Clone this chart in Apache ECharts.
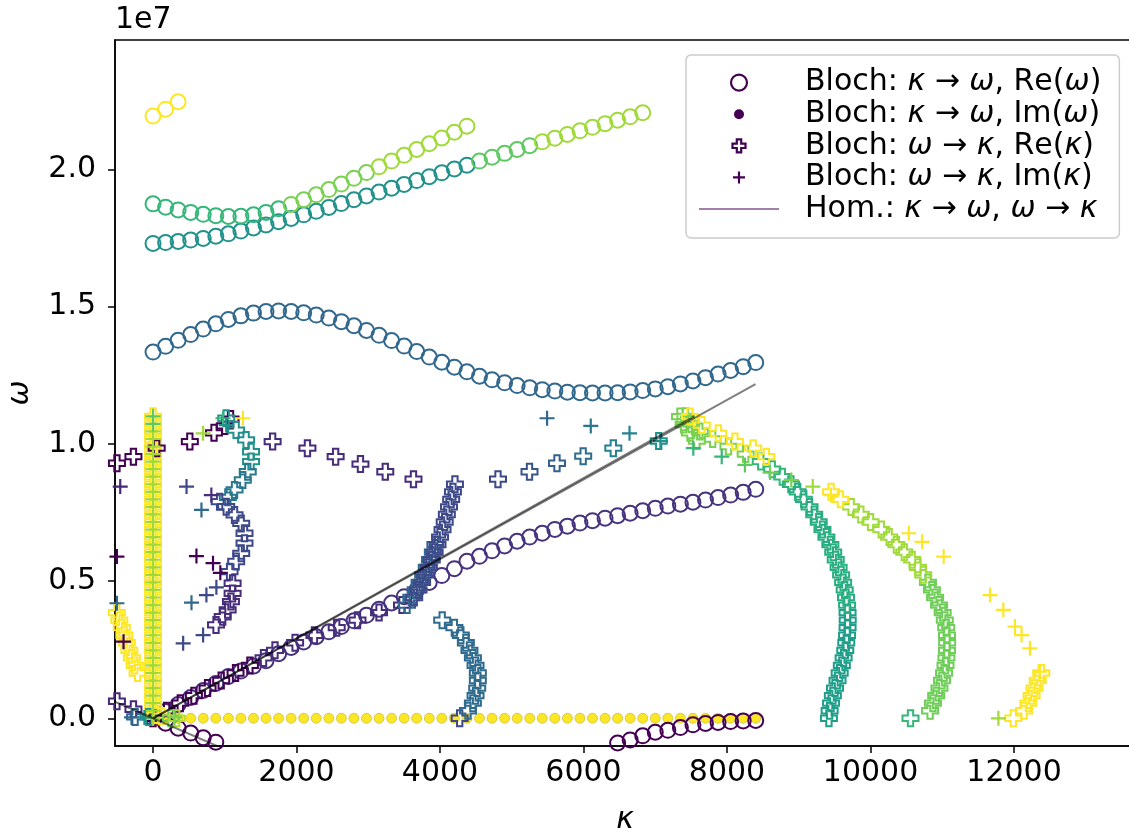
<!DOCTYPE html>
<html><head><meta charset="utf-8">
<script src="https://cdn.jsdelivr.net/npm/echarts@6/dist/echarts.min.js"></script>
<style>html,body{margin:0;padding:0;background:#fff}#c{width:1129px;height:834px}</style>
</head><body><div id="c"></div><script>
// ---------------- DATA (omega in units of 1e7) ----------------
const xTicks = [0, 2000, 4000, 6000, 8000, 10000, 12000];
const yTicks = [0, 0.5, 1.0, 1.5, 2.0];
const yTickLabels = ['0.0', '0.5', '1.0', '1.5', '2.0'];

// Bloch kappa -> omega : kappa sweep
const kGrid = [0,175,350,525,700,875,1050,1225,1400,1575,1750,1925,2100,2275,2450,2625,2800,2975,3150,3325,3500,3675,3850,4025,4200,4375,4550,4725,4900,5075,5250,5425,5600,5775,5950,6125,6300,6475,6650,6825,7000,7175,7350,7525,7700,7875,8050,8225,8400];
const reOmegaA = [0,-0.018,-0.036,-0.054,-0.071,-0.087,-0.102,-0.118,null,null,null,null,null,null,null,null,null,null,null,null,null,null,null,null,null,null,null,null,null,null,null,null,null,null,null,null,-0.104,-0.09,-0.079,-0.064,-0.051,-0.044,-0.034,-0.024,-0.019,-0.015,-0.012,-0.01,-0.008];
const reOmegaB = [0,0.025,0.05,0.076,0.101,0.127,0.152,0.172,0.19,0.21,0.235,0.258,0.278,0.297,0.315,0.334,0.355,0.375,0.397,0.42,0.443,0.467,0.495,0.52,0.545,0.572,0.59,0.61,0.628,0.645,0.66,0.674,0.688,0.70,0.711,0.72,0.729,0.738,0.747,0.756,0.765,0.773,0.78,0.787,0.795,0.804,0.813,0.823,0.834];
const reOmegaC = [1.334,1.355,1.377,1.398,1.418,1.437,1.453,1.466,1.476,1.482,1.484,1.482,1.477,1.469,1.458,1.445,1.43,1.413,1.395,1.376,1.356,1.336,1.316,1.297,1.279,1.262,1.246,1.233,1.222,1.212,1.204,1.197,1.192,1.188,1.186,1.185,1.185,1.186,1.189,1.194,1.2,1.208,1.218,1.229,1.241,1.254,1.267,1.281,1.296];
const reOmegaD = [1.730,1.733,1.737,1.742,1.748,1.756,1.765,1.775,1.786,1.797,1.809,1.821,1.834,1.847,1.861,1.875,1.889,1.903,1.917,1.931,1.945,1.959,1.973,1.987,2.001,2.015,2.03,2.044,2.058,2.072,2.086,2.1,2.113,2.127,2.14,2.153,2.166,2.179,2.191,2.206,null,null,null,null,null,null,null,null,null];
const reOmegaE = [1.874,1.862,1.852,1.843,1.836,1.831,1.828,1.829,1.834,1.843,1.856,1.872,1.889,1.907,1.926,1.946,1.967,1.988,2.009,2.03,2.051,2.072,2.093,2.114,2.135,2.157,null,null,null,null,null,null,null,null,null,null,null,null,null,null,null,null,null,null,null,null,null,null,null];
const reOmegaF = [2.194,2.219,2.246,null,null,null,null,null,null,null,null,null,null,null,null,null,null,null,null,null,null,null,null,null,null,null,null,null,null,null,null,null,null,null,null,null,null,null,null,null,null,null,null,null,null,null,null,null,null];
const imOmega = [0,0,0,0,0,0,0,0,0,0,0,0,0,0,0,0,0,0,0,0,0,0,0,0,0,0,0,0,0,0,0,0,0,0,0,0,0,0,0,0,0,0,0,0,0,0,0,0,0];

// Bloch omega -> kappa : omega sweep
const wGrid = [0,0.0275,0.055,0.0825,0.11,0.1375,0.165,0.1925,0.22,0.2475,0.275,0.3025,0.33,0.3575,0.385,0.4125,0.44,0.4675,0.495,0.5225,0.55,0.5775,0.605,0.6325,0.66,0.6875,0.715,0.7425,0.77,0.7975,0.825,0.8525,0.88,0.9075,0.935,0.9625,0.99,1.0175,1.045,1.0725,1.1];
const reKappaCol0 = [0,0,0,0,0,0,0,0,0,0,0,0,0,0,0,0,0,0,0,0,0,0,0,0,0,0,0,0,0,0,0,0,0,0,0,0,0,0,0,0,0];
const imKappaCol0 = [0,0,0,0,0,0,0,0,0,0,0,0,0,0,0,0,0,0,0,0,0,0,0,0,0,0,0,0,0,0,0,0,0,0,0,0,0,0,0,0,0];
const reKappaHom = [0,190,380,570,760,950,1150,1350,1540,1700,1980,2250,2560,2850,3150,3470,null,null,null,null,null,null,null,null,null,null,null,null,null,null,null,null,null,null,null,null,null,null,null,null,null];
const reKappaSteepA = [null,null,null,null,null,null,null,null,null,null,null,null,null,null,null,3540,3600,3660,3715,3765,3815,3860,3900,3935,null,null,null,null,null,null,null,null,null,null,null,null,null,null,null,null,null];
const reKappaSteepB = [null,null,null,null,null,null,null,null,null,null,null,null,null,null,null,null,3640,3700,3750,3800,3845,3885,3925,3965,4000,4035,4065,4095,4125,4155,4180,4208,null,null,null,null,null,null,null,null,null];
const reKappaBlueArc = [4274,4389,4458,4495,4518,4527,4527,4495,4458,4410,4360,4290,4200,4030,null,null,null,null,null,null,null,null,null,null,null,null,null,null,null,null,null,null,null,null,null,null,null,null,null,null,null];
const reKappaTealArc = [9420,9430,9450,9475,9505,9540,9570,9600,9625,9648,9662,9673,9680,9682,9680,9673,9658,9640,9618,9590,9555,9515,9480,9440,9385,9330,9278,9215,9150,9070,8985,8890,8770,8630,8470,8260,8020,7800,7620,7500,7420];
const reKappaLimeArc = [10557,10830,10870,10915,10960,10995,11025,11045,11058,11065,11068,11066,11055,11035,11005,10955,10900,10855,10800,10735,10660,10580,10470,10360,10260,10150,10000,9865,9730,9580,9450,null,null,null,null,null,null,null,null,null,null];
const reKappaYellowArc = [11990,12140,12200,12245,12285,12330,12380,null,null,null,null,null,null,null,null,null,null,null,null,null,null,null,null,null,null,null,null,null,null,null,null,null,null,null,null,null,null,null,null,null,null];

// scattered omega -> kappa solutions  [kappa, omega]
const reKappaTopLeft = [[-720,0.905],[-503,0.929],[-273,0.953],[51,0.984],[513,1.008],[850,1.04],[1000,1.065],[1080,1.09]];
const reKappaTopMid = [[1667,1.008],[2152,0.984],[2545,0.953],[2891,0.926],[3237,0.898],[3630,0.871]];
const reKappaTopRight = [[4808,0.871],[5247,0.898],[5630,0.929],[5995,0.955],[6415,0.984],[7048,1.01]];
const reKappaS1 = [[1020,1.093],[1158,1.05],[1297,1.014],[1366,0.971],[1366,0.935],[1320,0.898],[1251,0.868],[1136,0.832],[1043,0.805]];
const reKappaS2 = [[928,0.789],[1020,0.771],[1136,0.741],[1229,0.71],[1275,0.674],[1275,0.638],[1229,0.601],[1159,0.571],[1067,0.534]];
const reKappaS3 = [[1109,0.492],[1109,0.455],[1086,0.425],[1040,0.395],[971,0.37],[878,0.34]];
const reKappaLeftYellow = [[-600,0.46],[-570,0.44],[-540,0.4125],[-505,0.385],[-470,0.3575],[-435,0.33],[-400,0.3025],[-365,0.275],[-330,0.2475],[-295,0.22],[-255,0.1925],[-215,0.165]];
const reKappaNegHom = [[-273,0.033],[-503,0.062],[-750,0.09]];
const reKappaOrigin = [[-250,0.005],[-60,0.005],[30,0.012],[120,0.008],[250,0.0],[330,0.0]];
const reKappaYellowTop = [[7483,1.099],[7649,1.068],[7879,1.038],[8110,1.008],[8364,0.984],[8548,0.953]];
const reKappaLimeTop = [[7344,1.099],[7395,1.07],[7483,1.04],[7580,1.01]];

const imKappaRight = [[5492,1.093],[6101,1.065],[6641,1.038],[7072,1.01],[7530,0.984],[7926,0.953],[8249,0.923],[8600,0.895],[8896,0.868],[9195,0.844],[9449,0.813],[10534,0.674],[10719,0.643],[11019,0.589],[11667,0.449],[11851,0.395],[12013,0.334],[12105,0.303],[12221,0.255],[12360,0.17]];
const imKappaLeft = [[-457,0.844],[467,0.844],[813,0.813],[675,0.759],[605,0.591],[836,0.565],[938,0.530],[-503,0.589],[-503,0.419],[536,0.421],[744,0.449],[883,0.477],[420,0.273],[698,0.303],[-411,0.279],[698,1.038],[975,1.093],[1252,1.093],[1020,1.068]];
const imKappaOrigin = [[-300,0.003],[-120,0.003],[300,0.003],[11782,0.0]];

// homogeneous medium lines [kappa, omega]
const homKappaToOmega = [[0,0],[8397,1.217]];
const homOmegaToKappa = [[0,0],[7540,1.1]];
const homNegative = [[-1000,0.113],[0,0],[1000,-0.113]];

// ---------------- STYLE ----------------
const imKappaRightColors = ['#31688e','#2a788e','#26828e','#21918c','#35b779','#35b779','#5ec962','#6ece58','#7ad151','#a0da39','#fde725','#fde725','#fde725','#fde725','#fde725','#fde725','#fde725','#fde725','#fde725','#fde725'];
const imKappaLeftColors = ['#482878','#3e4989','#472d7b','#31688e','#440154','#440154','#440154','#440154','#31688e','#31688e','#3e4989','#3e4989','#3e4989','#3e4989','#440154','#a0da39','#35b779','#fde725','#21918c'];
const reKappaTopRightColors = ['#3e4989','#3b528b','#355f8d','#2e6e8e','#27808e','#21918c'];
const reKappaOriginColors = ['#31688e','#21918c','#fde725','#fde725','#6ece58','#b5de2b'];
const imKappaOriginColors = ['#31688e','#21918c','#7ad151','#a0da39'];

const N_RW = 'Bloch: κ → ω, Re(ω)';
const N_IW = 'Bloch: κ → ω, Im(ω)';
const N_RK = 'Bloch: ω → κ, Re(κ)';
const N_IK = 'Bloch: ω → κ, Im(κ)';
const N_H = 'Hom.: κ → ω, ω → κ';

const SYM = {
  circle: {symbol: 'circle', size: 15, bw: 2},
  dot: {symbol: 'circle', size: 10, bw: 0.6},
  pluso: {symbol: 'path://M1,0H2V1H3V2H2V3H1V2H0V1H1Z', size: 16, bw: 2},
  plus: {symbol: 'path://M0,1H2M1,0V2', size: 15, bw: 2.2}
};

function byK(ks, ws) { const out = []; ks.forEach((k, i) => { if (ws[i] != null) out.push([k, ws[i]]); }); return out; }
function byW(ks, ws) { const out = []; ws.forEach((w, j) => { if (ks[j] != null) out.push([ks[j], w]); }); return out; }

function sc(name, pts, col, kind) {
  const s = SYM[kind];
  return {
    type: 'scatter', name, silent: true, symbol: s.symbol, symbolSize: s.size, clip: true,
    itemStyle: {opacity: 1},
    data: pts.map((p, i) => {
      const c = typeof col === 'function' ? col(p, i) : (Array.isArray(col) ? col[i] : col);
      return {value: p, itemStyle: kind === 'dot'
        ? {color: c, borderColor: '#b8b03a', borderWidth: s.bw, opacity: 1}
        : {color: 'rgba(0,0,0,0)', borderColor: c, borderWidth: s.bw, opacity: 1}};
    })
  };
}
function ln(pts) {
  return {type: 'line', name: N_H, silent: true, symbol: 'none', clip: true, data: pts,
    lineStyle: {color: 'rgba(0,0,0,0.5)', width: 2, opacity: 1}, itemStyle: {color: 'rgba(68,1,84,0.5)'}};
}

const series = [
  sc(N_IW, byK(kGrid, imOmega), '#fde725', 'dot'),
  sc(N_RW, byK(kGrid, reOmegaA), '#440154', 'circle'),
  sc(N_RW, byK(kGrid, reOmegaB), '#46327e', 'circle'),
  sc(N_RW, byK(kGrid, reOmegaC), '#31688e', 'circle'),
  sc(N_RW, byK(kGrid, reOmegaD), p => p[0] <= 4400 ? '#21918c' : (p[0] <= 5400 ? '#5ec962' : '#a0da39'), 'circle'),
  sc(N_RW, byK(kGrid, reOmegaE), p => p[0] < 1900 ? '#35b779' : (p[0] < 3000 ? '#7ad151' : '#a0da39'), 'circle'),
  sc(N_RW, byK(kGrid, reOmegaF), '#fde725', 'circle'),
  sc(N_RK, byW(reKappaCol0, wGrid), '#fde725', 'pluso'),
  sc(N_RK, byW(reKappaHom, wGrid), p => p[1] < 0.2 ? '#440154' : '#472d7b', 'pluso'),
  sc(N_RK, byW(reKappaSteepA, wGrid), '#31688e', 'pluso'),
  sc(N_RK, byW(reKappaSteepB, wGrid), '#3e4989', 'pluso'),
  sc(N_RK, byW(reKappaBlueArc, wGrid), p => p[1] === 0 ? '#3e4989' : '#2f6b8e', 'pluso'),
  sc(N_RK, byW(reKappaTealArc, wGrid), p => p[1] < 0.4 ? '#1f9e89' : (p[1] < 0.86 ? '#28ae80' : (p[1] < 0.95 ? '#35b779' : '#7ad151')), 'pluso'),
  sc(N_RK, byW(reKappaLimeArc, wGrid), p => p[1] === 0 ? '#35b779' : (p[1] < 0.5 ? '#6ece58' : (p[1] < 0.78 ? '#a0da39' : '#fde725')), 'pluso'),
  sc(N_RK, byW(reKappaYellowArc, wGrid), '#fde725', 'pluso'),
  sc(N_RK, reKappaTopLeft, '#440154', 'pluso'),
  sc(N_RK, reKappaTopMid, '#472d7b', 'pluso'),
  sc(N_RK, reKappaTopRight, reKappaTopRightColors, 'pluso'),
  sc(N_RK, reKappaS1, p => p[1] > 0.9 ? '#21918c' : '#2a788e', 'pluso'),
  sc(N_RK, reKappaS2, '#3e4989', 'pluso'),
  sc(N_RK, reKappaS3, '#472d7b', 'pluso'),
  sc(N_RK, reKappaLeftYellow, '#fde725', 'pluso'),
  sc(N_RK, reKappaNegHom, '#482878', 'pluso'),
  sc(N_RK, reKappaOrigin, reKappaOriginColors, 'pluso'),
  sc(N_RK, reKappaLimeTop, '#7ad151', 'pluso'),
  sc(N_RK, reKappaYellowTop, '#fde725', 'pluso'),
  sc(N_IK, byW(imKappaCol0, wGrid), p => p[1] > 1.05 ? '#5ec962' : '#a0da39', 'plus'),
  sc(N_IK, imKappaRight, imKappaRightColors, 'plus'),
  sc(N_IK, imKappaLeft, imKappaLeftColors, 'plus'),
  sc(N_IK, imKappaOrigin, imKappaOriginColors, 'plus'),
  ln(homKappaToOmega),
  ln(homOmegaToKappa),
  ln(homNegative)
];

const FONT = 'DejaVu Sans';
const FS = 30;
const richLegend = {
  sp: {width: 21},
  n: {fontFamily: FONT, fontSize: FS, color: '#000'},
  i: {fontFamily: FONT, fontSize: FS, fontStyle: 'italic', color: '#000'}
};
function legendFmt(name) {
  let out = '{sp|}';
  for (const ch of name) {
    if (ch === 'κ' || ch === 'ω') out += '{i|' + ch + '}';
    else out += '{n|' + ch + '}';
  }
  return out;
}
const E = 'M0,0M20,20';
const legendData = [
  {name: N_RW, icon: 'path://' + E + 'M2,10a8,8 0 1,0 16,0a8,8 0 1,0 -16,0Z', itemStyle: {color: 'rgba(0,0,0,0)', borderColor: '#440154', borderWidth: 2.2, opacity: 1}},
  {name: N_IW, icon: 'path://' + E + 'M5,10a5,5 0 1,0 10,0a5,5 0 1,0 -10,0Z', itemStyle: {color: '#440154', borderColor: '#440154', borderWidth: 0, opacity: 1}},
  {name: N_RK, icon: 'path://' + E + 'M7.8,3.5H12.2V7.8H16.5V12.2H12.2V16.5H7.8V12.2H3.5V7.8H7.8Z', itemStyle: {color: 'rgba(0,0,0,0)', borderColor: '#440154', borderWidth: 2.2, opacity: 1}},
  {name: N_IK, icon: 'path://' + E + 'M4,10H16M10,4V16', itemStyle: {color: 'rgba(0,0,0,0)', borderColor: '#440154', borderWidth: 2.2, opacity: 1}},
  {name: N_H, icon: 'path://M0,0M80,20M0,10H80', itemStyle: {color: 'rgba(0,0,0,0)', borderColor: 'rgba(68,1,84,0.5)', borderWidth: 2, opacity: 1}}
];

const chart = echarts.init(document.getElementById('c'), null, {renderer: 'canvas'});
chart.setOption({
  animation: false,
  backgroundColor: '#fff',
  grid: {left: 115, top: 40, width: 1020, height: 706, outerBoundsMode: 'none', containLabel: false,
    show: true, borderColor: '#000', borderWidth: 1.5, backgroundColor: 'rgba(0,0,0,0)'},
  xAxis: {
    type: 'value', min: -530, max: 13686,
    name: 'κ', nameLocation: 'middle', nameGap: 74,
    nameTextStyle: {fontFamily: FONT, fontSize: FS, fontStyle: 'italic', color: '#000', verticalAlign: 'middle'},
    axisLine: {show: true, onZero: false, lineStyle: {color: '#000', width: 1.5}},
    axisTick: {show: true, inside: false, length: 7, lineStyle: {color: '#000', width: 1.5}, customValues: xTicks},
    axisLabel: {fontFamily: FONT, fontSize: FS, color: '#000', margin: 12, customValues: xTicks, formatter: v => String(v)},
    splitLine: {show: false}
  },
  yAxis: {
    type: 'value', min: -0.101, max: 2.471,
    name: 'ω', nameLocation: 'middle', nameGap: 95, nameRotate: 90,
    nameTextStyle: {fontFamily: FONT, fontSize: FS, fontStyle: 'italic', color: '#000', verticalAlign: 'middle'},
    axisLine: {show: true, onZero: false, lineStyle: {color: '#000', width: 1.5}},
    axisTick: {show: true, inside: false, length: 7, lineStyle: {color: '#000', width: 1.5}, customValues: yTicks},
    axisLabel: {fontFamily: FONT, fontSize: FS, color: '#000', margin: 19, customValues: yTicks,
      formatter: v => yTickLabels[yTicks.indexOf(v)] ?? v.toFixed(1)},
    splitLine: {show: false}
  },
  legend: {
    show: true, orient: 'vertical', left: 686, top: 55, selectedMode: false,
    padding: [12.6, 18, 13.9, 12], itemWidth: 80, itemHeight: 20, itemGap: 1.6,
    backgroundColor: 'rgba(255,255,255,0.8)', borderColor: '#cccccc', borderWidth: 1.5, borderRadius: 5,
    data: legendData, formatter: legendFmt,
    textStyle: {fontFamily: FONT, fontSize: FS, color: '#000', rich: richLegend}
  },
  graphic: [{type: 'text', left: 115, top: 5, style: {text: '1e7', font: FS + 'px "DejaVu Sans"', fill: '#000'}}],
  series
});
</script></body></html>
